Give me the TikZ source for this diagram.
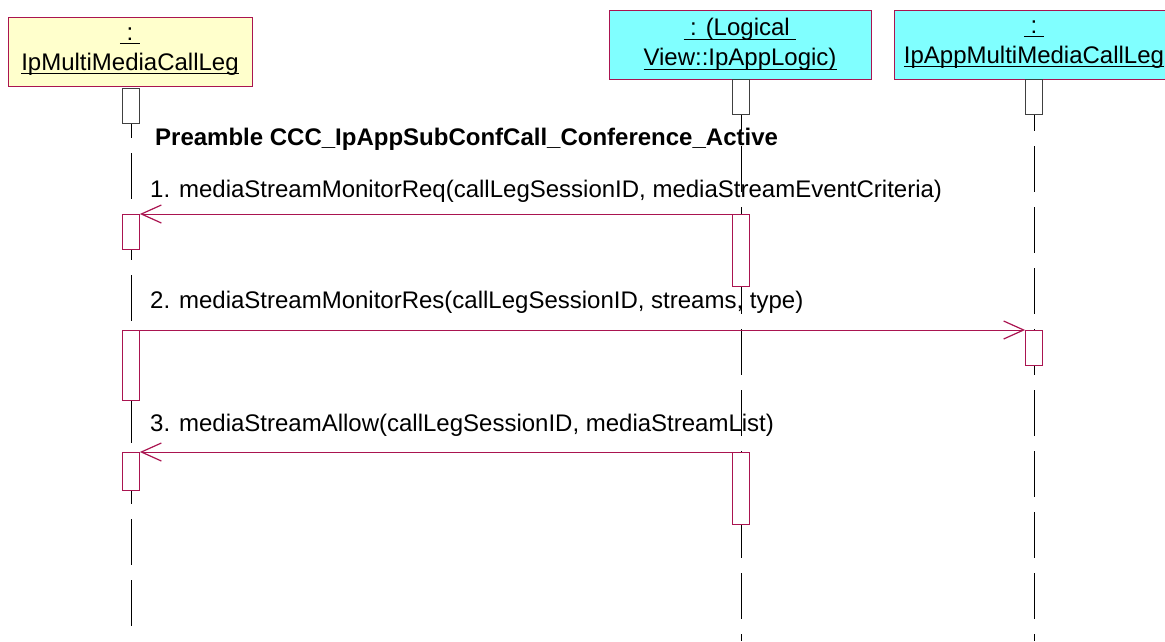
\documentclass[tikz,border=0pt]{standalone}
\usepackage{fontspec}
\setmainfont{Liberation Sans}
\usetikzlibrary{arrows.meta}
\definecolor{umlred}{RGB}{170,20,80}
\definecolor{headyellow}{RGB}{255,255,204}
\definecolor{headcyan}{RGB}{128,255,255}
\newcommand{\myuline}[1]{\setbox0\hbox{#1}\rlap{\rule[-4pt]{\wd0}{1.2pt}}\box0}
\tikzset{
  headbox/.style={draw=umlred, line width=0.8pt, minimum width=244pt, minimum height=69pt, align=center, inner sep=0pt, font=\fontsize{24}{30}\selectfont},
  actbox/.style={draw=umlred, line width=0.8pt, fill=white, minimum width=17pt, inner sep=0pt},
  topact/.style={draw=black!75, line width=0.8pt, fill=white, minimum width=17pt, minimum height=35pt, inner sep=0pt},
  lifeline/.style={draw=black, line width=0.7pt, dash pattern=on 46pt off 15pt, dash phase=55pt},
  msg/.style={draw=umlred, line width=1pt, -{Straight Barb[length=20pt,width=18pt,line width=1.2pt]}},
  msglabel/.style={anchor=base west, inner sep=0pt, font=\fontsize{24}{28}\selectfont},
}
\begin{document}
\begin{tikzpicture}[x=1pt,y=-1pt]
\useasboundingbox (0,0) rectangle (1165,641);
% heads
\node[headbox, fill=headyellow] (h1) at (130,51.5) {\myuline{\ :\ }\\\myuline{IpMultiMediaCallLeg}};
\node[headbox, fill=headcyan, minimum width=262pt] (h2) at (740,44.5) {\myuline{\ : (Logical\ }\\\myuline{View::IpAppLogic)}};
\node[headbox, fill=headcyan, minimum width=280pt] (h3) at (1034,44.5) {\myuline{\ :\ }\\\myuline{IpAppMultiMediaCallLeg}};
% lifeline ends
\coordinate (e1) at (131,641);
\coordinate (e2) at (741,641);
\coordinate (e3) at (1034,641);
\draw[lifeline] (h1.south -| e1) -- (e1);
\draw[lifeline] (h2.south -| e2) -- (e2);
\draw[lifeline] (h3.south -| e3) -- (e3);
% top activations
\node[topact, anchor=north] (t1) at (131,88) {};
\node[topact, anchor=north] (t2) at (741,79) {};
\node[topact, anchor=north] (t3) at (1034,79) {};
% preamble
\node[anchor=base west, inner sep=0pt, font=\fontsize{24}{28}\selectfont\bfseries] (pre) at (155,145) {Preamble CCC\_IpAppSubConfCall\_Conference\_Active};
% activations
\node[actbox, anchor=north, minimum height=35pt] (a1) at (131,214) {};
\node[actbox, anchor=north, minimum height=72pt] (b1) at (741,214) {};
\node[actbox, anchor=north, minimum height=70pt] (a2) at (131,330) {};
\node[actbox, anchor=north, minimum height=35pt] (c2) at (1034,330) {};
\node[actbox, anchor=north, minimum height=38pt] (a3) at (131,452) {};
\node[actbox, anchor=north, minimum height=72pt] (b3) at (741,452) {};
% messages
\draw[msg] (b1.north west) -- (a1.north east);
\draw[msg] (a2.north east) -- (c2.north west);
\draw[msg] (b3.north west) -- (a3.north east);
% labels
\node[msglabel] (m1) at (150,197) {1. mediaStreamMonitorReq(callLegSessionID, mediaStreamEventCriteria)};
\node[msglabel] (m2) at (150,308) {2. mediaStreamMonitorRes(callLegSessionID, streams, type)};
\node[msglabel] (m3) at (150,431) {3. mediaStreamAllow(callLegSessionID, mediaStreamList)};
\end{tikzpicture}
\end{document}
